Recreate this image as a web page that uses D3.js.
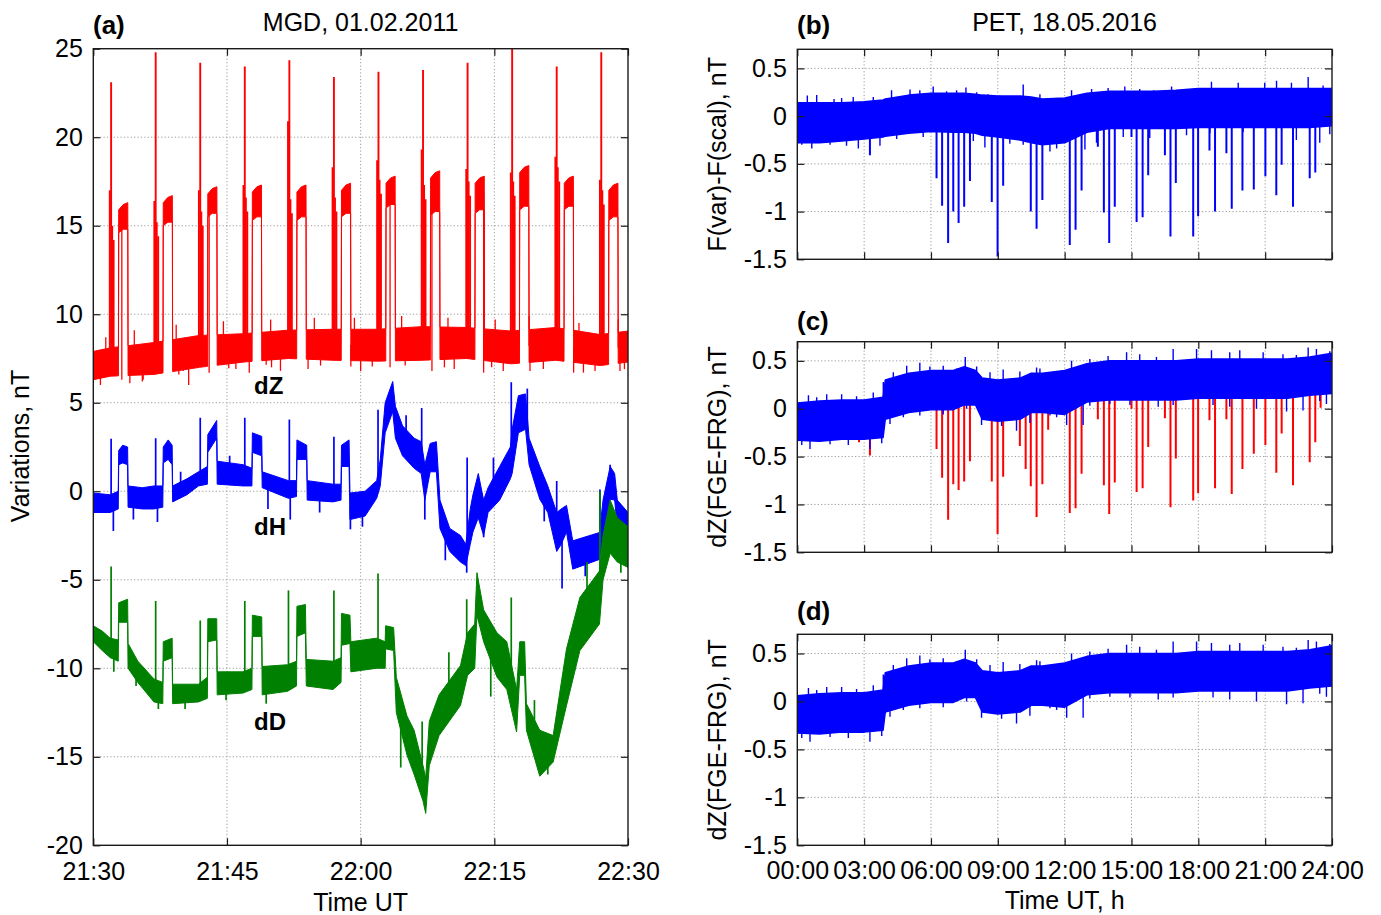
<!DOCTYPE html>
<html><head><meta charset="utf-8">
<script src="https://cdn.jsdelivr.net/npm/d3@7"></script>
<style>
body{margin:0;background:#fff}
svg{display:block}
text{font-family:"Liberation Sans",Arial,Helvetica,sans-serif;fill:#000}
</style></head>
<body><svg id="chart" width="1381" height="915"></svg>
<script>
// ---------------- DATA: panel (a) MGD 01.02.2011, minutes after 21:30 ----------------
const aXTicks = [0, 15, 30, 45, 60];
const aXLabels = ["21:30", "21:45", "22:00", "22:15", "22:30"];
const aYTicks = [25, 20, 15, 10, 5, 0, -5, -10, -15, -20];

// dZ: repeating calibration events
const aEventMin = [2, 7, 12, 17, 22, 27, 32, 37, 42, 47, 52, 57];
const dZPeak    = [23.1, 24.8, 24.2, 24.0, 24.35, 23.4, 23.7, 23.8, 24.2, 25.5, 24.0, 24.8];
const dZPre     = [17.0, 16.4, 17.0, 17.3, 20.9, 18.3, 18.7, 19.3, 18.2, 18.0, 18.9, 17.6];
const dZAfter   = [15.0, 15.2, 15.8, 16.6, 16.5, 16.6, 17.6, 17.3, 17.5, 17.5, 18.3, 17.0];
const dZPlatLo  = [14.6, 15.0, 15.5, 15.3, 15.3, 15.5, 16.0, 15.6, 15.7, 15.9, 15.9, 15.3];
const dZPlatHi  = [16.3, 16.7, 17.2, 17.3, 17.3, 17.4, 17.8, 18.1, 17.8, 18.4, 17.8, 17.4];
const dZBaseM   = [0, 1.9, 6.8, 11.9, 16.9, 21.9, 26.9, 31.9, 36.9, 41.9, 46.9, 51.9, 56.9, 60];
const dZBaseLo  = [6.3, 6.5, 6.6, 7.0, 7.3, 7.5, 7.4, 7.35, 7.4, 7.5, 7.2, 7.4, 7.1, 7.3];
const dZBaseHi  = [7.9, 8.1, 8.4, 8.8, 8.9, 9.1, 9.15, 9.15, 9.3, 9.25, 9.05, 9.25, 8.85, 9.05];
// dZ noise excursions (minute, value)
const dZWhiskM  = [0.8,3.2,4.1,5.5,5.6,9.6,10.7,10.1,13.0,15.2,16.0,17.5,19.4,20.0,21.0,24.1,25.5,28.9,30.0,31.3,33.3,35.0,38.0,39.4,40.5,43.8,44.7,46.0,49.0,50.5,53.9,55.0,56.3,59.1,59.6,1.4,4.6,9.3,14.6,19.9,24.8,29.3,34.6,39.8,45.1,48.9,54.5,58.9];
const dZWhiskV  = [6.0,6.3,6.1,6.2,6.3,6.6,6.0,6.8,6.7,6.95,6.9,6.7,7.15,7.0,6.8,6.9,7.1,7.05,6.8,7.05,7.0,7.1,6.8,7.0,6.9,6.7,7.0,6.8,6.8,6.9,6.7,6.7,6.8,6.8,6.9,8.7,9.1,9.4,9.6,9.7,9.8,9.8,9.9,9.8,9.7,9.9,9.5,9.7];

// dH band
const dHM  = [0,1.9,2.8,2.85,3.3,3.85,3.9,5.5,6.8,7.8,7.85,8.4,8.85,8.9,10.5,11.8,12.8,12.85,13.85,13.9,16.8,17.8,17.85,18.9,18.95,21.9,22.8,22.85,23.95,24.0,26.9,27.8,27.85,28.7,28.8,30.5,31.8,32.2,32.75,33.6,33.9,34.7,36.0,36.8,37.2,37.8,38.5,38.9,40.0,41.2,41.8,42.3,42.6,43.2,43.8,44.3,45.6,46.8,47.0,47.7,48.5,48.9,50.1,51.0,52.0,52.5,53.1,53.8,56.8,57.2,58.0,58.5,58.8,60];
const dHLo = [-1.2,-1.2,-1.0,1.5,1.6,1.5,-0.9,-1.0,-1.0,-0.9,1.6,1.8,1.5,-0.6,-0.2,0.3,0.4,2.2,3.0,0.4,0.3,0.3,2.2,2.0,0.2,-0.4,-0.3,1.8,1.8,-0.5,-0.6,-0.5,1.4,1.4,-1.6,-1.4,-0.4,0.3,3.3,4.5,3.0,2.0,1.3,1.0,-0.5,1.1,1.1,-2.1,-3.4,-4.0,-4.2,-3.0,-2.3,-1.5,-2.5,-1.2,-0.5,0.7,1.0,3.3,3.5,1.5,-0.45,-1.2,-3.4,-3.0,-2.3,-4.4,-3.85,-2.5,-0.45,-0.5,-2.0,-2.5];
const dHHi = [-0.1,-0.2,0.0,2.3,2.6,2.5,0.3,0.2,0.3,0.3,2.5,2.9,2.6,0.3,0.7,1.1,1.4,3.2,4.0,1.7,1.5,1.3,3.3,3.1,1.1,0.6,0.6,2.9,2.6,0.6,0.4,0.4,2.6,2.9,-0.1,0.0,0.6,1.8,5.0,6.2,4.8,3.7,3.0,2.8,1.5,2.7,2.8,-0.5,-2.1,-2.5,-3.0,-1.0,-0.2,1.0,-0.5,0.2,1.4,2.5,3.5,5.4,5.5,3.0,1.4,0.3,-1.2,-1.0,-0.8,-2.8,-2.33,-0.5,1.4,1.0,-0.5,-1.2];
const dHSpikeM = [2.0,2.25,7.0,7.2,12.0,17.0,22.0,22.1,27.0,28.85,31.95,36.85,37.2,41.9,41.95,43.8,46.9,48.7,52.0,52.6,56.85,58.0,4.5,9.8,15.3,19.6,25.4,30.2,35.1,39.5,44.9,50.6,55.2,59.3];
const dHSpikeV = [2.97,-2.25,3.0,-1.74,4.15,4.15,4.05,-1.6,3.08,-2.15,4.6,4.7,-1.6,-4.6,1.9,-2.6,6.16,5.8,0.58,-5.5,0.1,1.5,-1.6,1.1,2.0,-1.0,-1.2,-2.0,4.3,-3.9,1.9,-1.7,-4.8,-3.0];

// dD band
const dDM  = [0,1.0,1.9,2.8,2.85,3.85,3.9,5.0,6.8,7.8,7.85,8.85,8.9,11.8,12.8,12.85,13.85,13.9,16.8,17.8,17.85,18.9,18.95,21.8,22.8,22.85,23.8,23.9,26.9,27.8,27.85,28.8,28.9,31.8,32.75,32.8,33.7,34.0,35.2,36.0,37.0,37.3,37.7,38.8,41.2,42.0,42.8,43.05,43.8,45.3,46.4,47.5,47.85,48.4,48.6,50.1,51.6,53.1,54.6,56.8,57.2,58.0,58.8,60];
const dDLo = [-8.5,-9.0,-9.4,-9.6,-7.4,-7.4,-10.0,-10.8,-11.9,-12.0,-9.6,-9.4,-12.0,-11.9,-11.7,-8.5,-8.4,-11.5,-11.4,-11.2,-8.2,-8.2,-11.5,-11.3,-11.0,-8.2,-8.0,-11.0,-11.2,-10.8,-8.7,-8.6,-10.2,-10.0,-10.0,-8.9,-9.0,-12.5,-14.9,-16.0,-17.5,-18.2,-15.5,-13.8,-12.1,-10.4,-10.0,-7.0,-8.5,-10.5,-11.2,-13.6,-10.4,-10.4,-13.5,-16.1,-15.3,-12.1,-9.0,-7.5,-5.0,-3.5,-4.0,-4.3];
const dDHi = [-7.6,-7.9,-8.3,-8.4,-6.3,-6.1,-8.6,-9.6,-10.6,-10.8,-8.5,-8.3,-10.9,-10.9,-10.5,-7.2,-7.2,-10.2,-10.2,-10.0,-7.0,-7.1,-9.9,-9.8,-9.6,-6.5,-6.4,-9.5,-9.6,-9.4,-6.9,-7.0,-8.5,-8.3,-8.5,-7.6,-7.7,-10.5,-12.7,-13.5,-15.5,-16.2,-13.0,-11.5,-9.85,-8.0,-7.5,-4.6,-6.7,-8.0,-8.5,-11.2,-8.5,-8.5,-12.0,-13.5,-13.8,-8.9,-6.0,-4.5,-2.5,-0.5,-1.5,-2.0];
const dDSpikeM = [2.0,2.3,7.0,7.3,12.0,17.0,21.9,27.0,31.95,36.9,41.9,46.9,56.85,4.8,10.3,14.9,19.4,25.2,29.6,34.5,39.9,44.6,49.5,51.0,55.4,59.2];
const dDSpikeV = [-4.25,-10.2,-6.2,-12.3,-7.3,-6.2,-5.6,-5.6,-4.65,-13.0,-6.1,-6.0,0.0,-11.0,-12.3,-11.8,-12.0,-10.0,-9.4,-15.6,-9.1,-11.6,-11.8,-16.0,-4.0,-4.6];

// ---------------- DATA: panels (b)-(d) PET 18.05.2016, hours ----------------
const rXTicks = [0, 3, 6, 9, 12, 15, 18, 21, 24];
const rXLabels = ["00:00","03:00","06:00","09:00","12:00","15:00","18:00","21:00","24:00"];
const rYTicks = [0.5, 0, -0.5, -1, -1.5];
const rHours = [0,1,2,3,3.85,3.95,5,6,7,7.5,8,8.3,9,10,10.5,11,12,13,14,15,16,17,18,19,20,21,22,23,24];
const bHi  = [0.14,0.14,0.14,0.15,0.17,0.18,0.22,0.24,0.24,0.24,0.23,0.22,0.21,0.21,0.2,0.18,0.19,0.24,0.26,0.26,0.26,0.27,0.29,0.29,0.29,0.29,0.29,0.29,0.29];
const bLo  = [-0.28,-0.28,-0.26,-0.24,-0.22,-0.21,-0.18,-0.16,-0.17,-0.17,-0.18,-0.2,-0.22,-0.25,-0.28,-0.3,-0.28,-0.17,-0.13,-0.13,-0.13,-0.13,-0.12,-0.12,-0.12,-0.12,-0.12,-0.12,-0.1];
const cdHi = [0.06,0.08,0.09,0.09,0.12,0.3,0.37,0.4,0.4,0.44,0.4,0.32,0.3,0.32,0.37,0.37,0.4,0.47,0.5,0.5,0.5,0.5,0.52,0.52,0.52,0.52,0.52,0.54,0.58];
const cdLo = [-0.33,-0.34,-0.32,-0.32,-0.3,-0.11,-0.04,-0.01,-0.01,0.04,0.04,-0.11,-0.13,-0.11,-0.04,-0.04,-0.06,0.07,0.09,0.09,0.09,0.09,0.11,0.11,0.11,0.11,0.11,0.14,0.16];
// noise excursions (hour, value)
const bWhiskH = [0.45,0.87,1.65,1.99,2.51,3.41,4.23,5.06,5.5,6.1,6.7,7.15,7.57,8.05,8.57,9.09,10.14,10.89,11.56,12.31,13.21,13.95,14.7,15.37,16.0,16.8,17.92,18.59,19.79,20.98,21.51,22.18,22.93,23.6,0.2,0.65,1.47,2.21,2.74,3.71,4.46,5.65,7.9,8.42,9.54,10.14,11.34,11.64,12.91,13.43,14.63,15.82,17.47,18.52,20.01,22.4,23.45,23.9];
const bWhiskV = [0.215,0.22,0.18,0.19,0.2,0.2,0.27,0.28,0.27,0.31,0.26,0.27,0.3,0.25,0.23,0.215,0.33,0.23,0.16,0.27,0.285,0.295,0.31,0.285,0.27,0.31,0.27,0.36,0.35,0.35,0.37,0.35,0.41,0.32,-0.3,-0.34,-0.3,-0.31,-0.34,-0.31,-0.24,-0.22,-0.26,-0.33,-0.29,-0.3,-0.37,-0.34,-0.35,-0.28,-0.22,-0.23,-0.2,-0.18,-0.17,-0.25,-0.28,-0.19];
const cdWhiskH = [0.5,0.87,1.32,1.99,2.66,3.41,3.86,4.31,4.91,5.5,5.95,6.55,7.15,7.54,8.05,8.65,9.24,9.99,10.74,10.89,11.86,12.31,13.13,13.95,14.78,15.37,16.12,16.87,17.92,18.59,19.41,19.86,20.91,21.8,22.4,22.93,23.3,23.9,0.2,0.57,1.47,2.29,3.26,3.79,4.16,4.76,5.5,6.55,7.6,8.27,9.17,9.84,10.44,11.34,11.64,12.09,12.83,13.13,14.03,14.93,16.2,16.87,18.66,19.41,20.61,21.96,22.7,23.45,23.75];
const cdWhiskV = [0.14,0.12,0.15,0.15,0.13,0.17,0.28,0.38,0.45,0.48,0.44,0.45,0.42,0.54,0.44,0.38,0.41,0.39,0.43,0.42,0.39,0.5,0.52,0.55,0.59,0.57,0.54,0.625,0.625,0.61,0.59,0.61,0.59,0.57,0.56,0.64,0.625,0.6,-0.38,-0.42,-0.37,-0.38,-0.42,-0.36,-0.16,-0.09,-0.07,-0.06,0.0,-0.17,-0.18,-0.23,-0.15,-0.07,-0.09,-0.17,-0.17,0.03,0.05,0.04,0.02,0.04,0.04,0.02,0.0,-0.03,-0.02,0.08,0.05];
const spikeHours = [2.77,3.26,6.25,6.5,6.77,7.0,7.24,7.49,7.75,8.73,8.99,9.24,9.99,10.25,10.48,10.74,11.0,11.26,12.23,12.49,12.76,13.49,13.76,14.0,14.25,15.0,15.23,15.5,15.75,16.5,16.75,16.99,17.77,17.99,18.5,18.75,19.26,19.5,19.98,20.49,21.01,21.5,21.74,22.25,23.0,23.25,23.49];
const bSpike = [null,-0.41,-0.65,-0.94,-1.33,-1.0,-1.12,-0.95,-0.68,-0.9,-1.47,-0.73,null,null,-1.0,-1.18,-0.88,null,-1.35,-1.19,-0.78,-0.32,-1.01,-1.33,-0.95,-0.22,-1.11,-1.06,-0.62,-0.41,-1.26,-0.7,-1.26,-1.05,-0.36,-1.0,-0.39,-0.97,-0.78,-0.77,-0.63,-0.83,-0.51,-0.95,-0.65,-0.59,null];
const cSpike = [-0.35,-0.49,-0.42,-0.72,-1.16,-0.79,-0.85,-0.76,-0.55,-0.76,-1.31,-0.71,-0.39,-0.63,-0.81,-1.13,-0.79,-0.22,-1.09,-1.04,-0.68,-0.11,-0.8,-1.1,-0.77,0.0,-0.87,-0.83,-0.4,-0.1,-1.03,-0.52,-0.96,-0.88,-0.12,-0.83,-0.11,-0.89,-0.63,-0.47,-0.38,-0.67,-0.26,-0.8,-0.56,-0.35,0.01];

// ---------------- DRAWING ----------------
const svg = d3.select("#chart");
const FONT = '"Liberation Sans", Arial, Helvetica, sans-serif';
const RED = "#ff0000", BLUE = "#0000ff", GREEN = "#008000";
const defs = svg.append("defs");
let clipN = 0;

function interp(ms, vs, m) {
  const i = d3.bisectRight(ms, m);
  if (i <= 0) return vs[0];
  if (i >= ms.length) return vs[ms.length - 1];
  const t = (m - ms[i-1]) / (ms[i] - ms[i-1]);
  return vs[i-1] + t * (vs[i] - vs[i-1]);
}

function panel(x, y, xTicks, yTicks, xFmt, yFmt, xPad) {
  const [x0, x1] = x.range(), [y0, y1] = y.range();
  const g = svg.append("g");
  const grid = g.append("g").attr("stroke", "#9a9a9a").attr("stroke-width", 1).attr("stroke-dasharray", "1.2,2.2");
  const xd = x.domain(), yd = y.domain();
  grid.selectAll(".gx").data(xTicks.filter(t => t > xd[0] && t < xd[1])).join("line")
    .attr("x1", d => x(d)).attr("x2", d => x(d)).attr("y1", y0).attr("y2", y1);
  grid.selectAll(".gy").data(yTicks.filter(t => t > Math.min(...yd) && t < Math.max(...yd))).join("line")
    .attr("y1", d => y(d)).attr("y2", d => y(d)).attr("x1", x0).attr("x2", x1);
  const id = "clip" + (clipN++);
  defs.append("clipPath").attr("id", id).append("rect")
    .attr("x", x0).attr("y", y1).attr("width", x1 - x0).attr("height", y0 - y1);
  const data = g.append("g").attr("clip-path", `url(#${id})`);
  const axes = g.append("g");
  function styleAxis(sel) {
    sel.attr("font-family", FONT).attr("font-size", 25);
    sel.select(".domain").remove();
    sel.selectAll(".tick line").attr("stroke", "#1a1a1a").attr("stroke-width", 1.2);
    sel.selectAll(".tick text").attr("fill", "#000");
  }
  axes.append("g").attr("transform", `translate(${x0},0)`)
    .call(d3.axisLeft(y).tickValues(yTicks).tickSize(-7).tickPadding(10.5).tickFormat(yFmt)).call(styleAxis);
  axes.append("g").attr("transform", `translate(${x1},0)`)
    .call(d3.axisRight(y).tickValues(yTicks).tickSize(-7).tickFormat("")).call(styleAxis);
  axes.append("g").attr("transform", `translate(0,${y0})`)
    .call(d3.axisBottom(x).tickValues(xTicks).tickSize(-7).tickPadding(xPad).tickFormat(xFmt)).call(styleAxis);
  axes.append("g").attr("transform", `translate(0,${y1})`)
    .call(d3.axisTop(x).tickValues(xTicks).tickSize(-7).tickFormat("")).call(styleAxis);
  axes.append("rect").attr("x", x0).attr("y", y1).attr("width", x1 - x0).attr("height", y0 - y1)
    .attr("fill", "none").attr("stroke", "#1a1a1a").attr("stroke-width", 1.4);
  return data;
}

function band(g, x, y, ms, los, his, color, sw) {
  const pts = ms.map((m, i) => ({m, lo: los[i], hi: his[i]}));
  g.append("path").attr("d", d3.area().x(d => x(d.m)).y0(d => y(d.lo)).y1(d => y(d.hi))(pts))
    .attr("fill", color).attr("stroke", color).attr("stroke-width", sw).attr("stroke-linejoin", "round");
}
function spikes(g, x, y, ms, los, his, sm, sv, color, sw) {
  const pts = sm.map((m, i) => ({m, v: sv[i]})).filter(d => d.v !== null);
  g.append("g").selectAll("line").data(pts).join("line")
    .attr("x1", d => x(d.m)).attr("x2", d => x(d.m))
    .attr("y1", d => y((interp(ms, los, d.m) + interp(ms, his, d.m)) / 2))
    .attr("y2", d => y(d.v))
    .attr("stroke", color).attr("stroke-width", sw);
}

// ---- Panel (a)
const xA = d3.scaleLinear().domain([0, 60]).range([93.3, 628]);
const yA = d3.scaleLinear().domain([-20, 25]).range([845.3, 48.7]);
const gA = panel(xA, yA, aXTicks, aYTicks, (d, i) => aXLabels[i], d => String(d), 17);

(function () {
  const plats = aEventMin.map((t, k) => ({s: t + 0.85, e: t + 1.87, lo: dZPlatLo[k], hi: dZPlatHi[k]}));
  const track = [];
  dZBaseM.forEach((m, i) => {
    if (!plats.some(p => m >= p.s && m <= p.e)) track.push({m, lo: dZBaseLo[i], hi: dZBaseHi[i]});
  });
  plats.forEach(p => {
    track.push({m: p.s - 0.03, lo: interp(dZBaseM, dZBaseLo, p.s), hi: interp(dZBaseM, dZBaseHi, p.s)});
    track.push({m: p.s, lo: p.lo, hi: p.hi - 0.4});
    track.push({m: (p.s + p.e) / 2, lo: p.lo + 0.2, hi: p.hi - 0.1});
    track.push({m: p.e, lo: p.lo + 0.2, hi: p.hi});
    track.push({m: p.e + 0.03, lo: interp(dZBaseM, dZBaseLo, p.e), hi: interp(dZBaseM, dZBaseHi, p.e)});
  });
  track.sort((a, b) => a.m - b.m);
  const tm = track.map(d => d.m), tl = track.map(d => d.lo), th = track.map(d => d.hi);
  band(gA, xA, yA, tm, tl, th, RED, 1);
  const sm = [], sv = [];
  aEventMin.forEach((t, k) => {
    sm.push(t - 0.15, t, t + 0.12, t + 0.28);
    sv.push(dZPre[k], dZPeak[k], dZAfter[k], dZAfter[k] - 0.8);
  });
  spikes(gA, xA, yA, tm, tl, th, sm, sv, RED, 1.9);
  spikes(gA, xA, yA, tm, tl, th, dZWhiskM, dZWhiskV, RED, 1.3);
})();
band(gA, xA, yA, dHM, dHLo, dHHi, BLUE, 1);
spikes(gA, xA, yA, dHM, dHLo, dHHi, dHSpikeM, dHSpikeV, BLUE, 1.7);
band(gA, xA, yA, dDM, dDLo, dDHi, GREEN, 1);
spikes(gA, xA, yA, dDM, dDLo, dDHi, dDSpikeM, dDSpikeV, GREEN, 1.7);

[["dZ", 393.5], ["dH", 535], ["dD", 730]].forEach(([t, yy]) => {
  svg.append("text").attr("x", 254).attr("y", yy).attr("font-size", 24).attr("font-weight", "bold").text(t);
});

// ---- Panels (b)(c)(d)
const xR = d3.scaleLinear().domain([0, 24]).range([797.3, 1332]);
const yB = d3.scaleLinear().domain([-1.5, 0.7]).range([259.3, 49.3]);
const yC = d3.scaleLinear().domain([-1.5, 0.7]).range([552.3, 341.7]);
const yD = d3.scaleLinear().domain([-1.5, 0.7]).range([845.3, 634.3]);
const rYFmt = d => String(d);

const gB = panel(xR, yB, rXTicks, rYTicks, () => "", rYFmt, 16);
band(gB, xR, yB, rHours, bLo, bHi, BLUE, 1.5);
spikes(gB, xR, yB, rHours, bLo, bHi, bWhiskH, bWhiskV, BLUE, 1.4);
spikes(gB, xR, yB, rHours, bLo, bHi, spikeHours, bSpike, BLUE, 2);

const gC = panel(xR, yC, rXTicks, rYTicks, () => "", rYFmt, 16);
spikes(gC, xR, yC, rHours, cdLo, cdHi, spikeHours, cSpike, RED, 2);
band(gC, xR, yC, rHours, cdLo, cdHi, BLUE, 1.5);
spikes(gC, xR, yC, rHours, cdLo, cdHi, cdWhiskH, cdWhiskV, BLUE, 1.4);

const gD = panel(xR, yD, rXTicks, rYTicks, (d, i) => rXLabels[i], rYFmt, 16);
band(gD, xR, yD, rHours, cdLo, cdHi, BLUE, 1.5);
spikes(gD, xR, yD, rHours, cdLo, cdHi, cdWhiskH, cdWhiskV, BLUE, 1.4);

// ---- Titles and axis labels
function txt(x, y, s, opts = {}) {
  const t = svg.append("text").attr("x", x).attr("y", y).attr("font-size", opts.size || 25).text(s);
  if (opts.anchor) t.attr("text-anchor", opts.anchor);
  if (opts.bold) t.attr("font-weight", "bold");
  if (opts.rot) t.attr("transform", `rotate(-90,${x},${y})`);
  return t;
}
txt(93, 33.5, "(a)", {bold: true, size: 26});
txt(360.6, 30.5, "MGD, 01.02.2011", {anchor: "middle"});
txt(797, 33.5, "(b)", {bold: true, size: 26});
txt(1064.6, 30.5, "PET, 18.05.2016", {anchor: "middle"});
txt(797, 329.5, "(c)", {bold: true, size: 26});
txt(797, 620, "(d)", {bold: true, size: 26});
txt(360.6, 911, "Time UT", {anchor: "middle"});
txt(1064.6, 909, "Time UT, h", {anchor: "middle"});
txt(29, 446, "Variations, nT", {anchor: "middle", rot: true});
txt(726, 154.3, "F(var)-F(scal), nT", {anchor: "middle", rot: true});
txt(726, 447, "dZ(FGE-FRG), nT", {anchor: "middle", rot: true});
txt(726, 739.8, "dZ(FGE-FRG), nT", {anchor: "middle", rot: true});
</script></body></html>
